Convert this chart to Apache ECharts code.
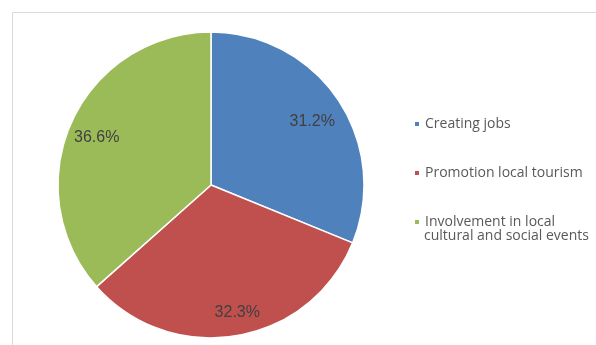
<!DOCTYPE html>
<html>
<head>
<meta charset="utf-8">
<script src="https://cdn.jsdelivr.net/npm/echarts@6/dist/echarts.min.js"></script>
<style>
  html, body { margin: 0; padding: 0; background: #ffffff; }
  #chart { width: 596px; height: 345px; }
</style>
</head>
<body>
<div id="chart"></div>
<script>
// Categories (legend labels; "\n" marks the legend line break)
const categories = [
  'Creating jobs',
  'Promotion local tourism',
  'Involvement in local\ncultural and social events'
];
// Share of respondents per category, in percent
const shares = [31.2, 32.3, 36.6];
const sliceColors = ['#4F81BD', '#C0504D', '#9BBB59'];

// Pie geometry
const pieCenter = [211, 185];
const pieRadius = 153;
// Value label placement: radial fraction of the radius, and a small turn (degrees) off the bisector
const labelRadiusFrac = [0.76, 0.83, 0.79];
const labelTurn = [-2, 2, 1.5];

// Shift each label from the default mid-radius spot to its own radius and angle
const total = shares.reduce((a, b) => a + b, 0);
let cum = 0;
const labelOffsets = shares.map((v, i) => {
  const midDeg = 90 - 360 * (cum + v / 2) / total;
  cum += v;
  const mid = midDeg * Math.PI / 180;
  const tgt = (midDeg + labelTurn[i]) * Math.PI / 180;
  const r0 = 0.5 * pieRadius;
  const r1 = labelRadiusFrac[i] * pieRadius;
  return [r1 * Math.cos(tgt) - r0 * Math.cos(mid), -(r1 * Math.sin(tgt) - r0 * Math.sin(mid))];
});

const legendFont = { fontFamily: 'Open Sans', fontSize: 14, color: '#595959' };

const chart = echarts.init(document.getElementById('chart'), null, { renderer: 'canvas' });
chart.setOption({
  animation: false,
  backgroundColor: '#ffffff',
  color: sliceColors,
  legend: {
    orient: 'vertical',
    left: 413,
    top: 115,
    padding: 0,
    itemWidth: 6,
    itemHeight: 6,
    itemGap: 31,
    icon: 'rect',
    selectedMode: false,
    data: categories,
    formatter: name => name.split('\n')[0],
    textStyle: Object.assign({ lineHeight: 18 }, legendFont)
  },
  graphic: [
    {
      type: 'rect',
      z: -10,
      silent: true,
      shape: { x: 12.5, y: 12.5, width: 640, height: 400 },
      style: { fill: 'none', stroke: '#d9d9d9', lineWidth: 1 }
    },
    {
      type: 'text',
      left: 424,
      top: 229,
      silent: true,
      style: {
        text: categories[2].split('\n')[1],
        font: legendFont.fontSize + 'px "' + legendFont.fontFamily + '"',
        fill: legendFont.color
      }
    }
  ],
  series: [{
    type: 'pie',
    center: pieCenter,
    radius: [0, pieRadius],
    startAngle: 90,
    clockwise: true,
    avoidLabelOverlap: false,
    itemStyle: { borderColor: '#ffffff', borderWidth: 1.5 },
    label: {
      show: true,
      position: 'inside',
      fontFamily: 'Liberation Sans',
      fontSize: 16,
      color: '#404040',
      formatter: p => p.value.toFixed(1) + '%'
    },
    labelLine: { show: false },
    emphasis: { disabled: true },
    data: shares.map((v, i) => ({
      name: categories[i],
      value: v,
      label: { offset: labelOffsets[i] }
    }))
  }]
});
</script>
</body>
</html>
